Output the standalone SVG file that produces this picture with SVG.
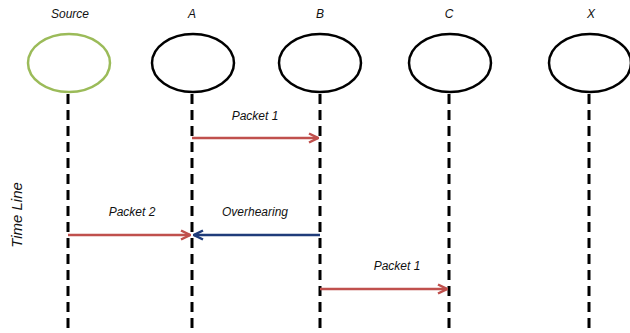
<svg xmlns="http://www.w3.org/2000/svg" width="630" height="333" viewBox="0 0 630 333">
<defs>
<marker id="ar" viewBox="0 0 12 12" refX="11" refY="6" markerWidth="12" markerHeight="12" orient="auto" markerUnits="userSpaceOnUse"><path d="M2,1.5 L11,6 L2,10.5" fill="none" stroke="#c0504d" stroke-width="2.5"/></marker>
<marker id="ab" viewBox="0 0 12 12" refX="11" refY="6" markerWidth="12" markerHeight="12" orient="auto" markerUnits="userSpaceOnUse"><path d="M2,1.5 L11,6 L2,10.5" fill="none" stroke="#1f3c7a" stroke-width="2.5"/></marker>
<style>
.t{font-family:"Liberation Sans",Arial,sans-serif;font-style:italic;font-size:12px;fill:#111;text-anchor:middle}
.n{fill:#fff;stroke:#000;stroke-width:2.5}
.life{stroke:#000;stroke-width:3;stroke-dasharray:10 6}
.red{stroke:#c0504d;stroke-width:2.5;fill:none}
.blue{stroke:#1f3c7a;stroke-width:2.5;fill:none}
</style>
</defs>
<rect width="630" height="333" fill="#fff"/>
<g id="lifelines">
<line class="life" x1="68" y1="94" x2="68" y2="333"/>
<line class="life" x1="192" y1="94" x2="192" y2="333"/>
<line class="life" x1="320" y1="94" x2="320" y2="333"/>
<line class="life" x1="449" y1="94" x2="449" y2="333"/>
<line class="life" x1="589" y1="94" x2="589" y2="333"/>
</g>
<g id="node-source"><ellipse cx="69" cy="63" rx="41" ry="29" fill="#fff" stroke="#9bbb59" stroke-width="2.5"/><text class="t" x="70" y="18">Source</text></g>
<g id="node-a"><ellipse class="n" cx="193" cy="63" rx="41" ry="29"/><text class="t" x="192" y="18">A</text></g>
<g id="node-b"><ellipse class="n" cx="320" cy="63" rx="41" ry="29"/><text class="t" x="320" y="18">B</text></g>
<g id="node-c"><ellipse class="n" cx="450" cy="63" rx="41" ry="29"/><text class="t" x="449" y="18">C</text></g>
<g id="node-x"><ellipse class="n" cx="590" cy="63" rx="41" ry="29"/><text class="t" x="591" y="18">X</text></g>
<g id="connectors">
<line class="red" x1="192" y1="138" x2="318" y2="138" marker-end="url(#ar)"/>
<line class="red" x1="68" y1="235" x2="190" y2="235" marker-end="url(#ar)"/>
<line class="blue" x1="320" y1="235" x2="194" y2="235" marker-end="url(#ab)"/>
<line class="red" x1="320" y1="289" x2="447" y2="289" marker-end="url(#ar)"/>
</g>
<g id="labels">
<text class="t" x="255" y="120">Packet 1</text>
<text class="t" x="132" y="216">Packet 2</text>
<text class="t" x="255" y="216">Overhearing</text>
<text class="t" x="397" y="270">Packet 1</text>
<text class="t" x="0" y="0" transform="translate(22,215) rotate(-90)" style="font-size:15px">Time Line</text>
</g>
</svg>
